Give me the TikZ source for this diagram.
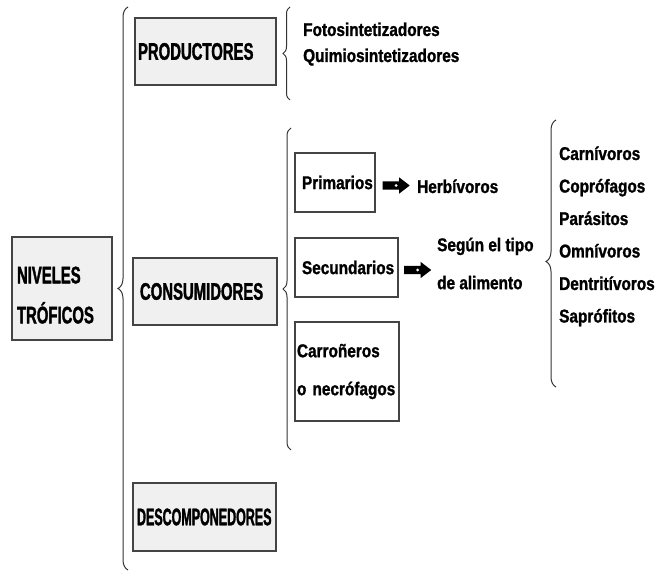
\documentclass[tikz,border=0pt]{standalone}
\usepackage{fontspec}
\usepackage{tikz}
\usetikzlibrary{decorations.pathreplacing,shapes.arrows}

\newfontfamily\anchafam[FakeStretch=0.62,FakeBold=1.4,UprightFont={* Bold}]{Liberation Sans}
\newfontfamily\estrechafam[FakeStretch=0.52,FakeBold=1.4,UprightFont={* Bold}]{Liberation Sans}
\newfontfamily\textofam[FakeStretch=0.83,FakeBold=1.3,UprightFont={* Bold}]{Liberation Sans}
\newcommand{\fnivel}{\anchafam\fontsize{24}{40}\selectfont}
\newcommand{\fdesc}{\estrechafam\fontsize{24}{40}\selectfont}
\newcommand{\ftexto}{\textofam\fontsize{18.5}{38}\selectfont}

\definecolor{cajagris}{HTML}{F0F0F0}
\definecolor{bordegris}{HTML}{444444}
\definecolor{llavegris}{HTML}{333333}

\begin{document}
\begin{tikzpicture}[x=1pt,y=-1pt,
    nivel/.style={draw=bordegris,fill=cajagris,line width=1.5pt,align=left,inner ysep=0pt,font=\fnivel},
    tipo/.style={draw=bordegris,fill=white,line width=1.5pt,align=left,inner ysep=0pt,font=\ftexto},
    txt/.style={inner sep=0pt,anchor=base west,align=left,font=\ftexto},
    llave/.style={draw=llavegris,line width=1pt,decorate,decoration={brace,amplitude=#1}},
    flecha/.style={single arrow,fill=black,inner sep=4pt,minimum height=27pt,minimum width=16pt,
        single arrow head extend=4pt,single arrow tip angle=75,
        path picture={\fill[white] (path picture bounding box.center) circle (1.5pt);}}
]
\useasboundingbox (0,0) rectangle (659,572);

% niveles troficos
\node[nivel,inner xsep=5pt,text width=90pt,minimum height=103pt] (niv) at (62,288.5) {\rule{0pt}{30pt}NIVELES\\TRÓFICOS};
\node[nivel,inner xsep=3pt,text width=135pt,minimum height=67pt] (prod) at (205.5,51.5) {PRODUCTORES};
\node[nivel,inner xsep=7pt,text width=130pt,minimum height=67pt] (cons) at (205,291.5) {CONSUMIDORES};
\node[nivel,font=\fdesc,inner xsep=4pt,text width=135pt,minimum height=68pt] (desc) at (204.5,517) {DESCOMPONEDORES};

% llaves
\coordinate (gA) at (128,570);
\coordinate (gB) at (128,7);
\draw[llave=10pt] (gA) -- (gB);
\coordinate (pA) at (290,100);
\coordinate (pB) at (290,7);
\draw[llave=7pt] (pA) -- (pB);
\coordinate (cA) at (291,450);
\coordinate (cB) at (291,128);
\draw[llave=8pt] (cA) -- (cB);
\coordinate (aA) at (556,387);
\coordinate (aB) at (556,120);
\draw[llave=10pt,decoration={aspect=0.47}] (aA) -- (aB);

% productores
\node[txt] (foto) at (303,36) {Fotosintetizadores};
\node[txt] (quimio) at (303,62) {Quimiosintetizadores};

% consumidores
\node[tipo,inner xsep=7pt,text width=66pt,minimum height=59pt] (prim) at (335,182.5) {Primarios};
\node[flecha] (f1) at (393.5,185.5) {};
\node[txt] (herb) at (417,193) {Herbívoros};
\node[tipo,inner xsep=7pt,text width=89pt,minimum height=59pt] (sec) at (346.5,267.5) {Secundarios};
\node[flecha] (f2) at (415,270) {};
\node[txt,anchor=west] (segun) at (437,263.5) {Según el tipo\\de alimento};
\node[tipo,inner xsep=2pt,text width=100pt,minimum height=99pt] (carr) at (347,371.5) {Carroñeros\\o necrófagos};

% segun el alimento
\foreach \t [count=\i from 0] in {Carnívoros,Coprófagos,Parásitos,Omnívoros,Dentritívoros,Saprófitos}
    \node[txt] (ali\i) at (559,160+32.5*\i) {\t};
\end{tikzpicture}
\end{document}
